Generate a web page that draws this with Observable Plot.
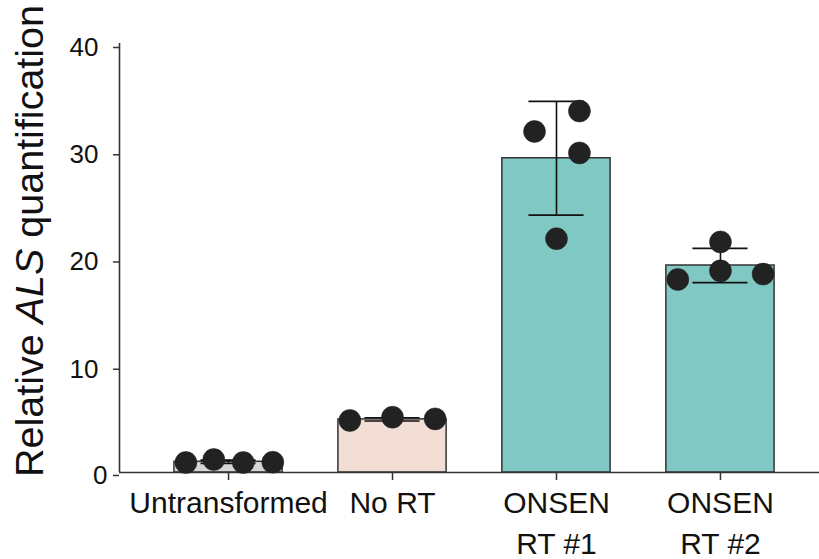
<!DOCTYPE html>
<html>
<head>
<meta charset="utf-8">
<script src="https://cdn.jsdelivr.net/npm/d3@7"></script>
<script src="https://cdn.jsdelivr.net/npm/@observablehq/plot@0.6"></script>
<style>
  html, body { margin: 0; padding: 0; background: #fff; }
  #chart { width: 819px; height: 559px; }
</style>
</head>
<body>
<div id="chart"></div>
<script>
// ---- data ----
const categories = ["Untransformed", "No RT", "ONSEN\nRT #1", "ONSEN\nRT #2"];
const means = [1.0, 4.95, 29.3, 19.3];
const sds = [0.15, 0.15, 5.3, 1.6];
const yTicks = [0, 10, 20, 30, 40];

// replicate measurements (group index, value, horizontal jitter in bar units)
const repGroup  = [0, 0, 0, 0, 1, 1, 1, 2, 2, 2, 2, 3, 3, 3, 3];
const repValue  = [0.93, 1.21, 0.93, 0.96, 4.85, 5.16, 5.0, 31.8, 33.7, 29.8, 21.8, 18.0, 21.5, 18.8, 18.5];
const repJitter = [-0.26, -0.09, 0.09, 0.27, -0.26, 0, 0.26, -0.134, 0.14, 0.14, 0, -0.26, 0, 0, 0.26];

// ---- styles ----
const barColors = ["#d6d6d6", "#f3ded5", "#80c8c3", "#80c8c3"];
const halfBar = 0.33;
const halfCap = 0.168;

const bars = categories.map((c, i) => ({i, mean: means[i], sd: sds[i], color: barColors[i]}));
const reps = repGroup.map((g, k) => ({g, value: repValue[k], jit: repJitter[k]}));

const xMin = -0.665, xMax = 3.604;

const plot = Plot.plot({
  width: 819,
  height: 559,
  marginLeft: 119,
  marginRight: 0,
  marginTop: 43,
  marginBottom: 87,
  style: {fontFamily: "'Liberation Sans', Arial, Helvetica, sans-serif", background: "#fff", color: "#111", overflow: "visible"},
  x: {domain: [xMin, xMax]},
  y: {domain: [0, 40]},
  marks: [
    Plot.rectY(bars, {x1: d => d.i - halfBar, x2: d => d.i + halfBar, y1: 0, y2: "mean", fill: d => d.color, stroke: "#333", strokeWidth: 1.5}),
    Plot.ruleX(bars, {x: "i", y1: d => d.mean - d.sd, y2: d => d.mean + d.sd, stroke: "#111", strokeWidth: 1.6}),
    Plot.ruleY(bars, {y: d => d.mean + d.sd, x1: d => d.i - halfCap, x2: d => d.i + halfCap, stroke: "#111", strokeWidth: 1.6}),
    Plot.ruleY(bars, {y: d => d.mean - d.sd, x1: d => d.i - halfCap, x2: d => d.i + halfCap, stroke: "#111", strokeWidth: 1.6}),
    Plot.ruleY([0], {stroke: "#333", strokeWidth: 1.6}),
    Plot.ruleX([xMin], {y1: 0, y2: 40, stroke: "#333", strokeWidth: 1.6}),
    Plot.dot(reps, {x: d => d.g + d.jit, y: "value", r: 11, fill: "#222", stroke: "#222", strokeWidth: 0.5}),
    Plot.axisY(yTicks.filter(t => t > 0), {tickSize: 6, tickPadding: 15, fontSize: 26, dy: 4, stroke: "#333", strokeWidth: 1.5, label: null}),
    Plot.axisY([0], {tickSize: 6, tickPadding: 6, fontSize: 26, dy: 3, stroke: "#333", strokeWidth: 1.5, label: null}),
    Plot.axisX(categories.map((c, i) => i), {tickFormat: i => categories[i], tickSize: 8, tickPadding: 4, fontSize: 30, lineHeight: 1.36, stroke: "#333", strokeWidth: 1.5, label: null})
  ]
});

document.getElementById("chart").appendChild(plot);

// y-axis title with italic gene name
const svg = d3.select(plot);
const title = svg.append("text")
  .attr("transform", "translate(43,241) rotate(-90)")
  .attr("text-anchor", "middle")
  .attr("font-size", 39.5)
  .attr("fill", "#111")
  .style("white-space", "pre");
title.append("tspan").text("Relative ");
title.append("tspan").attr("font-style", "italic").text("ALS");
title.append("tspan").text(" quantification");
</script>
</body>
</html>
